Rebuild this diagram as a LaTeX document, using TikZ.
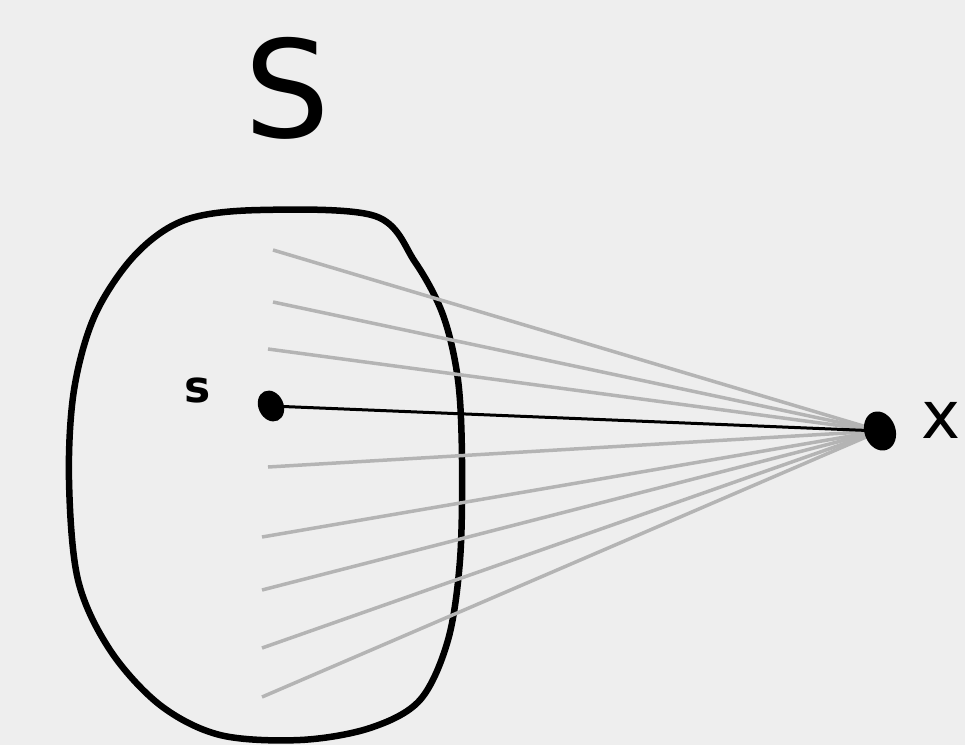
\documentclass[tikz,border=0pt]{standalone}
\usepackage{fontspec}
\setmainfont{DejaVu Sans}
\usetikzlibrary{shapes.geometric}
\begin{document}
\begin{tikzpicture}[x=1pt,y=-1pt,
  ray/.style={draw=rayg,line width=3.5pt},
  blob/.style={draw=black,line width=6.5pt,line join=round},
  dotn/.style={ellipse,fill=black,inner sep=0pt}]
\definecolor{bgc}{HTML}{EEEEEE}
\definecolor{rayg}{HTML}{B4B4B4}
\fill[bgc] (0,0) rectangle (965,745);
\useasboundingbox (0,0) rectangle (965,745);
% blob
\draw[blob] plot[smooth cycle,tension=0.55] coordinates {
 (260,210) (375,216) (415,262) (443,315) (458,380) (462,460) (460,560)
 (448,640) (420,700) (370,728) (300,740) (220,735) (160,705) (110,650)
 (78,580) (69,480) (74,390) (95,315) (135,255) (185,220)};
% points
\coordinate (p1) at (273,250);
\coordinate (p2) at (273,302);
\coordinate (p3) at (268,349);
\coordinate (p4) at (268,467);
\coordinate (p5) at (262,537);
\coordinate (p6) at (262,590);
\coordinate (p7) at (262,648);
\coordinate (p8) at (262,697);
\coordinate (xc) at (880,431);
\coordinate (sc) at (271,406);
\foreach \i in {1,...,8} \draw[ray] (p\i) -- (xc);
\draw[line width=3pt] (sc) -- (xc);
\node[dotn,minimum width=25pt,minimum height=32pt,rotate=25] (sdot) at (sc) {};
\node[dotn,minimum width=31pt,minimum height=40pt,rotate=20] (xdot) at (xc) {};
\node[font=\fontsize{135}{135}\selectfont] (S) at (287,88) {S};
\node[font=\fontsize{44}{44}\selectfont\bfseries,anchor=center] (s) at (198,390) {s};
\node[font=\fontsize{66}{66}\selectfont,anchor=west] (x) at (918,420) {x};
\end{tikzpicture}
\end{document}
